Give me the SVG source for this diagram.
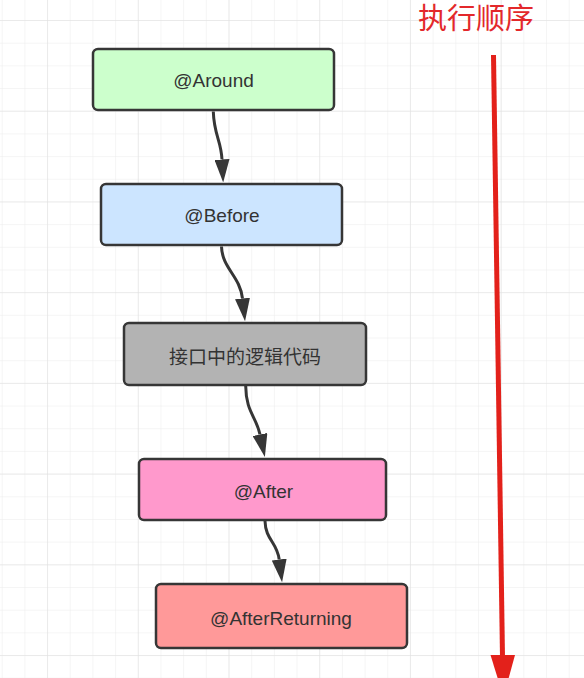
<svg xmlns="http://www.w3.org/2000/svg" width="584" height="678" viewBox="0 0 584 678">
  <style>
    .node rect { stroke: #363636; stroke-width: 2.5; }
    .node text { font-family: "Liberation Sans", "Noto Sans CJK SC", sans-serif; font-size: 19px; fill: #333333; text-anchor: middle; }
    .edge { fill: none; stroke: #363636; stroke-width: 3; marker-end: url(#arrow); }
    .title { font-family: "Noto Sans CJK SC", sans-serif; font-size: 29px; fill: #e3282b; }
  </style>
  <defs>
    <pattern id="gridMinor" patternUnits="userSpaceOnUse" x="1.7" y="20" width="22.68" height="22.68">
      <path d="M0,0 H22.68 M0,0 V22.68" fill="none" stroke="#ececec" stroke-width="1"/>
    </pattern>
    <pattern id="gridMajor" patternUnits="userSpaceOnUse" x="47.06" y="20" width="90.72" height="90.72">
      <path d="M0,0 H90.72 M0,0 V90.72" fill="none" stroke="#e0e0e0" stroke-width="1"/>
    </pattern>
    <marker id="arrow" markerUnits="userSpaceOnUse" viewBox="0 0 23 15" refX="0" refY="7.5" markerWidth="23" markerHeight="15" orient="auto">
      <path d="M0,0 L23,7.5 L0,15 Z" fill="#363636"/>
    </marker>
  </defs>

  <rect x="0" y="0" width="584" height="678" fill="#ffffff"/>
  <rect x="0" y="0" width="584" height="678" fill="url(#gridMinor)"/>
  <rect x="0" y="0" width="584" height="678" fill="url(#gridMajor)"/>

  <g id="connectors">
    <path class="edge" d="M213.3,111.5 C214,135 221,140 222,159.5"/>
    <path class="edge" d="M221.5,246.5 C222,268 240,276 242.5,298.5"/>
    <path class="edge" d="M245.7,386 C246,412 256,416 260,434.5"/>
    <path class="edge" d="M265,521 C265.5,540 277,542 279.2,559.5"/>
  </g>

  <g id="node-around" class="node">
    <rect x="93" y="49" width="241" height="61" rx="5" fill="#ccffcc"/>
    <text x="213.5" y="86.5">@Around</text>
  </g>
  <g id="node-before" class="node">
    <rect x="101" y="184" width="241" height="61" rx="5" fill="#cce5ff"/>
    <text x="222" y="222">@Before</text>
  </g>
  <g id="node-logic" class="node">
    <rect x="124" y="323" width="242" height="62" rx="5" fill="#b3b3b3"/>
    <text x="245" y="363.5">接口中的逻辑代码</text>
  </g>
  <g id="node-after" class="node">
    <rect x="139" y="459" width="247" height="61" rx="5" fill="#ff99cc"/>
    <text x="263.5" y="498">@After</text>
  </g>
  <g id="node-afterreturning" class="node">
    <rect x="156" y="584" width="251" height="64" rx="5" fill="#ff9999"/>
    <text x="281" y="624.5">@AfterReturning</text>
  </g>

  <g id="order-arrow">
    <text class="title" x="418" y="28.5">执行顺序</text>
    <line x1="493.5" y1="55" x2="502.5" y2="657" stroke="#e3211b" stroke-width="5"/>
    <polygon points="490.5,655 515,655 503.5,697" fill="#e3211b"/>
  </g>
</svg>
